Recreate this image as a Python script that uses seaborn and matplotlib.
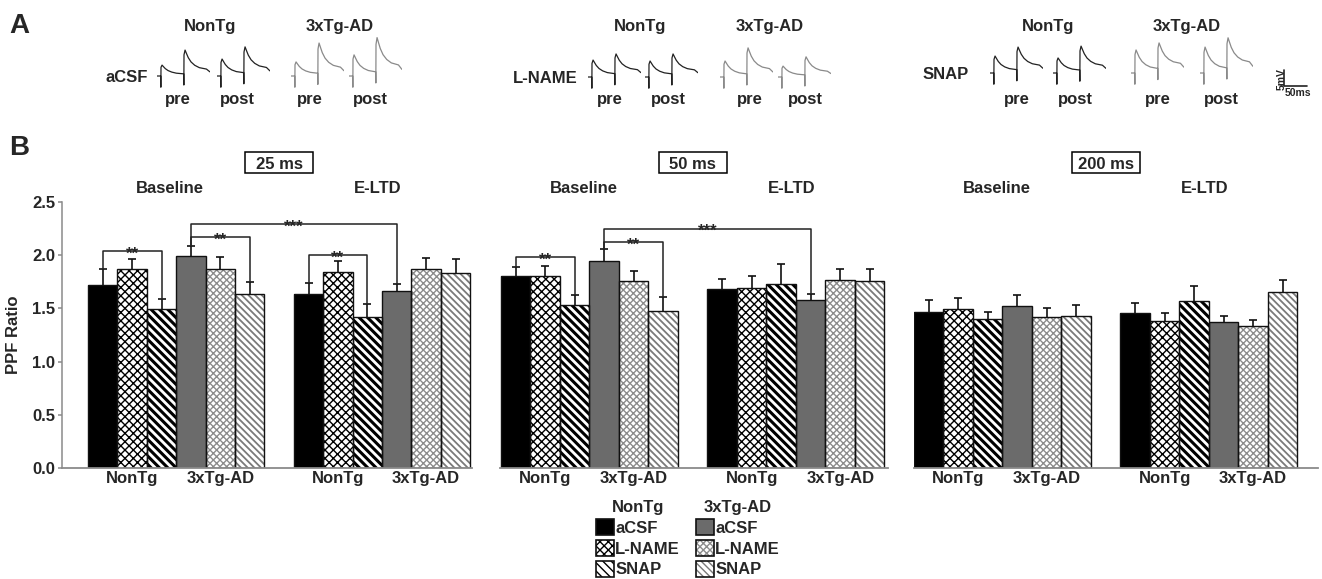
import numpy as np
import pandas as pd
import matplotlib
matplotlib.use("Agg")
import matplotlib.pyplot as plt
import seaborn as sns
from matplotlib.patches import Patch, Rectangle
from matplotlib.legend_handler import HandlerTuple

# ------------------------------------------------------------------ data
INTERVALS = ["25 ms", "50 ms", "200 ms"]
PHASES = ["Baseline", "E-LTD"]
GENOTYPES = ["NonTg", "3xTg-AD"]
TREATMENTS = ["aCSF", "L-NAME", "SNAP"]

# order inside each interval: Baseline(NonTg aCSF, L-NAME, SNAP, 3xTg aCSF, L-NAME, SNAP), then E-LTD (same)
PPF_25 = [1.72, 1.875, 1.49, 1.99, 1.87, 1.64, 1.64, 1.84, 1.42, 1.66, 1.87, 1.83]
SEM_25 = [0.15, 0.09, 0.10, 0.10, 0.11, 0.11, 0.10, 0.11, 0.12, 0.07, 0.10, 0.13]
PPF_50 = [1.80, 1.80, 1.53, 1.95, 1.76, 1.48, 1.68, 1.69, 1.73, 1.575, 1.77, 1.76]
SEM_50 = [0.09, 0.10, 0.10, 0.11, 0.09, 0.13, 0.10, 0.11, 0.19, 0.065, 0.10, 0.11]
PPF_200 = [1.47, 1.49, 1.40, 1.52, 1.42, 1.43, 1.46, 1.38, 1.57, 1.37, 1.33, 1.65]
SEM_200 = [0.11, 0.11, 0.07, 0.11, 0.08, 0.10, 0.09, 0.08, 0.14, 0.06, 0.06, 0.12]

# significance brackets: (bar index a, bar index b, bracket level, label)
SIG_25 = [(0, 2, 2.04, "**"), (3, 5, 2.17, "**"), (3, 9, 2.29, "***"), (6, 8, 2.00, "**")]
SIG_50 = [(0, 2, 1.98, "**"), (3, 5, 2.12, "**"), (3, 9, 2.25, "***")]
SIG_200 = []

YTICKS = [0.0, 0.5, 1.0, 1.5, 2.0, 2.5]

# panel A example traces: peak amplitudes (mV) of 1st and 2nd fEPSP
# order: NonTg pre, NonTg post, 3xTg-AD pre, 3xTg-AD post
ACSF_P1 = [3.4, 5.3, 4.4, 6.6]
ACSF_P2 = [8.1, 9.1, 10.3, 12.0]
LNAME_P1 = [5.3, 5.0, 5.0, 3.4]
LNAME_P2 = [7.2, 7.2, 9.1, 6.3]
SNAP_P1 = [5.3, 4.7, 7.2, 8.1]
SNAP_P2 = [8.1, 8.4, 9.4, 11.0]
TRACE_TIMES = ["pre", "post", "pre", "post"]
# response template (ms after stimulus, fraction of peak)
RESP_MS = [0.0, 0.35, 0.7, 3.0, 6.0, 10.0, 16.0, 24.0, 34.0, 49.5]
RESP_SHAPE = [0.0, 0.0, 0.8, 1.0, 0.86, 0.68, 0.5, 0.36, 0.26, 0.2]
ARTIFACT_MV = -3.5
ISI_MS = 50.0
SCALE_MV = 5
SCALE_MS = 50

# ------------------------------------------------------------------ style
sns.set_style("white")
plt.rcParams["font.family"] = ["Liberation Sans", "DejaVu Sans"]
plt.rcParams["font.weight"] = "bold"
plt.rcParams["axes.labelweight"] = "bold"
plt.rcParams["hatch.linewidth"] = 1.0

W, H = 1322, 579
fig = plt.figure(figsize=(W / 100, H / 100), dpi=100)
fig.patch.set_facecolor("white")


def rect(x0, y0, x1, y1):
    return [x0 / W, 1 - y1 / H, (x1 - x0) / W, (y1 - y0) / H]


def fxy(x, y):
    return x / W, 1 - y / H


FS = 12
SPINE_C = "#8a8a8a"

# bar styles: (facecolor, hatch, hatch colour, hatch linewidth)
STYLES = [
    ("black", None, "black", 1.0),
    ("white", "xxxx", "black", 1.0),
    ("white", "\\\\\\\\", "black", 2.2),
    ("#6b6b6b", None, "#6b6b6b", 1.0),
    ("white", "xxxxx", "#8c8c8c", 1.0),
    ("white", "\\\\\\\\\\", "#7a7a7a", 1.3),
]

POS = [i + (1 if i >= 6 else 0) for i in range(12)]

# ------------------------------------------------------------------ panel B
AX_LAYOUT = [(62, 472, -1.384, 12.56), (500, 888, -0.53, 12.62), (914, 1318, -0.5, 13.2)]
AX_TOP, AX_BOT = 202, 468
ALL_PPF = [PPF_25, PPF_50, PPF_200]
ALL_SEM = [SEM_25, SEM_50, SEM_200]
ALL_SIG = [SIG_25, SIG_50, SIG_200]

for k, (x0, x1, xl, xr) in enumerate(AX_LAYOUT):
    ax = fig.add_axes(rect(x0, AX_TOP, x1, AX_BOT))
    vals = ALL_PPF[k]
    sems = ALL_SEM[k]
    df = pd.DataFrame({"pos": POS, "ppf": vals})
    sns.barplot(data=df, x="pos", y="ppf", native_scale=True, width=1.0,
                color="white", linewidth=0, errorbar=None, ax=ax)
    first = sorted(ax.patches, key=lambda p: p.get_x())
    for i, p in enumerate(first):
        fc, hatch, hc, hlw = STYLES[i % 6]
        p.set_facecolor(fc)
        p.set_edgecolor(hc)
        p.set_linewidth(0)
        if hatch:
            p.set_hatch(hatch)
            if hasattr(p, "set_hatch_linewidth"):
                p.set_hatch_linewidth(hlw)
    sns.barplot(data=df, x="pos", y="ppf", native_scale=True, width=1.0,
                color="black", fill=False, linewidth=1.0, errorbar=None, ax=ax)
    for p in ax.patches:
        if p not in first:
            p.set_edgecolor("#111111")
            p.set_zorder(2.5)
    eb = ax.errorbar(POS, vals, yerr=[np.zeros(12), sems], fmt="none",
                     ecolor="#111111", elinewidth=1.2, capsize=3, capthick=1.2, zorder=3)
    eb[1][0].set_visible(False)

    # brackets
    for a, b, lvl, lab in ALL_SIG[k]:
        xa, xb = POS[a], POS[b]
        ax.plot([xa, xa, xb, xb], [vals[a] + sems[a], lvl, lvl, vals[b] + sems[b]],
                color="#222222", lw=1.1, zorder=4, clip_on=False)
        ax.text((xa + xb) / 2, lvl - 0.07, lab, ha="center", va="baseline",
                fontsize=FS, fontweight="bold", zorder=5)

    ax.set_xlim(xl, xr)
    ax.set_ylim(0, 2.5)
    ax.set_xlabel("")
    ax.set_xticks([1, 4, 8, 11])
    ax.set_xticklabels(GENOTYPES * 2, fontsize=FS, fontweight="bold")
    ax.tick_params(axis="x", length=0, pad=2.5)
    for s in ["top", "right"]:
        ax.spines[s].set_visible(False)
    ax.spines["bottom"].set_color(SPINE_C)
    ax.spines["bottom"].set_linewidth(1.3)
    if k == 0:
        ax.set_yticks(YTICKS)
        ax.set_yticklabels([f"{v:.1f}" for v in YTICKS], fontsize=FS, fontweight="bold")
        ax.tick_params(axis="y", length=3, width=1.1, color=SPINE_C, pad=2, left=True)
        ax.spines["left"].set_color(SPINE_C)
        ax.spines["left"].set_linewidth(1.1)
        ax.set_ylabel("PPF Ratio", fontsize=FS, fontweight="bold")
        ax.yaxis.set_label_coords(-0.1, 0.5)
    else:
        ax.spines["left"].set_visible(False)
        ax.set_yticks([])
        ax.set_ylabel("")
    ax.set_facecolor("none")

    trans = ax.get_xaxis_transform()
    ax.text(2.3, 1 + 9 / 266, PHASES[0], transform=trans, ha="center", va="baseline",
            fontsize=FS, fontweight="bold")
    ax.text(9.35, 1 + 9 / 266, PHASES[1], transform=trans, ha="center", va="baseline",
            fontsize=FS, fontweight="bold")
    bw = 68 / ((x1 - x0) / (xr - xl))
    ax.add_patch(Rectangle((6 - bw / 2, (AX_BOT - 173) / 266), bw, 21 / 266, transform=trans,
                           fill=False, ec="black", lw=1.1, clip_on=False))
    ax.text(6, (AX_BOT - 169) / 266, INTERVALS[k], transform=trans, ha="center",
            va="baseline", fontsize=FS, fontweight="bold")

# legend
def leg_handles(g):
    hs = []
    for t in range(3):
        fc, hatch, hc, hlw = STYLES[g * 3 + t]
        inner = Patch(facecolor=fc, edgecolor=hc, hatch=hatch, linewidth=0)
        if hatch and hasattr(inner, "set_hatch_linewidth"):
            inner.set_hatch_linewidth(hlw)
        outer = Patch(fill=False, edgecolor="#111111", linewidth=1.2)
        hs.append((inner, outer))
    return hs

for g, lx in enumerate([596, 696]):
    leg = fig.legend(leg_handles(g), TREATMENTS, loc="upper left",
                     bbox_to_anchor=fxy(lx, 500), frameon=False,
                     title=GENOTYPES[g],
                     prop={"weight": "bold", "size": FS},
                     title_fontproperties={"weight": "bold", "size": FS},
                     handlelength=1.1, handleheight=1.1, handletextpad=0.05,
                     labelspacing=0.25, borderpad=0, borderaxespad=0,
                     handler_map={tuple: HandlerTuple(ndivide=1)})

# ------------------------------------------------------------------ panel A
def build_trace(a1, a2):
    ts, vs = [-8.0], [0.0]
    base = 0.0
    for stim, amp in ((0.0, a1), (ISI_MS, a2)):
        for j, (dt, s) in enumerate(zip(RESP_MS, RESP_SHAPE)):
            ts.append(stim + dt)
            if j == 1:
                vs.append(base + ARTIFACT_MV)
            else:
                vs.append(base + (amp - base) * s)
        base = base + (amp - base) * RESP_SHAPE[-1]
    ts.append(ISI_MS + 57.0)
    vs.append(base * 0.6)
    return ts, vs

PX_PER_MS = 0.46
PX_PER_MV = 3.2
ROWS = [("aCSF", ACSF_P1, ACSF_P2), ("L-NAME", LNAME_P1, LNAME_P2), ("SNAP", SNAP_P1, SNAP_P2)]
ROW_BASE_PX = [76, 77, 73]
ROW_STARTS_PX = [[157, 217, 291, 349], [588, 645, 720, 778], [990, 1053, 1131, 1200]]
ROW_LABEL_RIGHT = [148, 578, 969]
ROW_LABEL_BASE = [82, 83, 79]
PREPOST_X = [[178, 237, 310, 370], [610, 668, 750, 805], [1017, 1075, 1158, 1221]]
HEAD_X = [[210, 340], [640, 770], [1048, 1187]]
T_LO, T_HI, V_LO, V_HI = -8.0, 108.0, -4.5, 13.0

for r, (name, p1, p2) in enumerate(ROWS):
    b = ROW_BASE_PX[r]
    for i in range(4):
        xs = ROW_STARTS_PX[r][i]
        tax = fig.add_axes(rect(xs, b - V_HI * PX_PER_MV, xs + (T_HI - T_LO) * PX_PER_MS,
                                b - V_LO * PX_PER_MV))
        ts, vs = build_trace(p1[i], p2[i])
        tax.plot(ts, vs, color="#222222" if i < 2 else "#8a8a8a", lw=0.9)
        tax.set_xlim(T_LO, T_HI)
        tax.set_ylim(V_LO, V_HI)
        tax.axis("off")
        fig.text(*fxy(PREPOST_X[r][i], 104), TRACE_TIMES[i], ha="center", va="baseline",
                 fontsize=FS, fontweight="bold")
    fig.text(*fxy(ROW_LABEL_RIGHT[r], ROW_LABEL_BASE[r]), name, ha="right", va="baseline",
             fontsize=FS, fontweight="bold")
    for g in range(2):
        fig.text(*fxy(HEAD_X[r][g], 31), GENOTYPES[g], ha="center", va="baseline",
                 fontsize=FS, fontweight="bold")

# scale bar
sax = fig.add_axes(rect(1284, 86 - 6 * PX_PER_MV, 1284 + 60 * PX_PER_MS, 86))
sax.plot([SCALE_MS, 0, 0], [0, 0, SCALE_MV], color="#222222", lw=1.2, clip_on=False)
sax.set_xlim(0, 60)
sax.set_ylim(0, 6)
sax.axis("off")
fig.text(*fxy(1282, 79), f"{SCALE_MV}mV", rotation=90, ha="center", va="center",
         fontsize=7.5, fontweight="bold")
fig.text(*fxy(1298, 92.5), f"{SCALE_MS}ms", ha="center", va="center",
         fontsize=7.5, fontweight="bold")

# panel letters
fig.text(*fxy(9, 33), "A", fontsize=20, fontweight="bold", ha="left", va="baseline")
fig.text(*fxy(9, 155), "B", fontsize=20, fontweight="bold", ha="left", va="baseline")

fig.savefig("out.png", dpi=100, facecolor="white")
